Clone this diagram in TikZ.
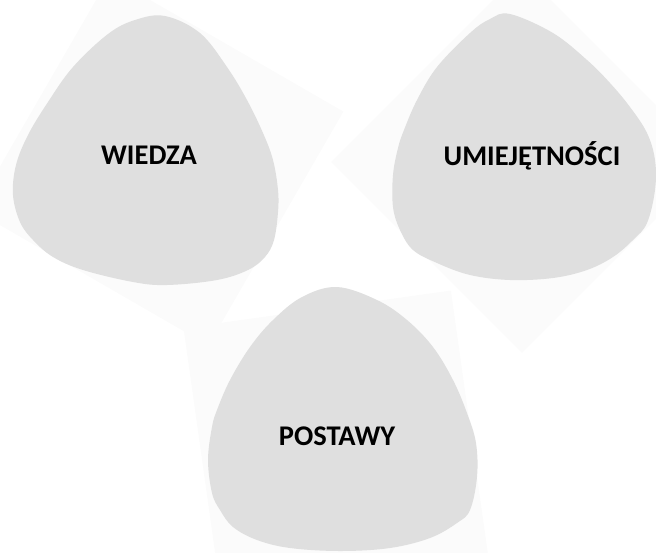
\documentclass[tikz,border=0pt]{standalone}
\usepackage{fontspec}
\setmainfont{Carlito}
\definecolor{blobgray}{HTML}{DFDFDF}
\definecolor{squaregray}{HTML}{FBFBFB}
\begin{document}
\begin{tikzpicture}[x=1pt,y=-1pt,
  blob/.style={fill=blobgray,draw=none},
  backsq/.style={fill=squaregray,draw=none},
  lbl/.style={font=\bfseries\fontsize{28.5}{32}\selectfont,anchor=base,inner sep=0pt,text=black}]
\useasboundingbox (0,0) rectangle (656,552);
\begin{scope}
\clip (0,0) rectangle (656,552);
% faint background squares
\fill[backsq, rotate around={-30:(159,161)}] (24,26) rectangle (294,296);
\fill[backsq, rotate around={45:(522,162)}] (387,27) rectangle (657,297);
\fill[backsq, rotate around={8:(336,443)}] (201,308) rectangle (471,578);
% blobs
\fill[blob] plot[smooth cycle, tension=0.6] coordinates {
  (165,16) (200,33) (227,67) (247,100) (263,133) (273,160) (278,190) (278,212)
  (274,240) (265,257) (248,270) (217,280) (167,285) (133,282) (83,270) (53,257)
  (33,240) (20,222) (13,195) (16,165) (28,135) (48,102) (73,67) (108,34) (135,20)};
\fill[blob] plot[smooth cycle, tension=0.6] coordinates {
  (510,14) (553,33) (587,60) (610,83) (630,107) (647,133) (655,160) (655,190)
  (647,223) (633,240) (613,257) (587,270) (553,278) (510,280) (470,275) (437,263)
  (413,250) (400,230) (393,207) (393,175) (398,148) (404,130) (417,100) (437,67)
  (470,33) (490,19)};
\fill[blob] plot[smooth cycle, tension=0.6] coordinates {
  (337,287) (377,300) (407,320) (433,347) (453,380) (467,413) (476,443) (477,477)
  (470,510) (457,523) (430,538) (390,548) (340,551) (290,548) (257,540) (233,527)
  (220,510) (212,493) (208,460) (212,427) (217,410) (230,380) (250,347) (273,320)
  (302,297)};
\end{scope}
% labels
\node[lbl] (wiedza) at (149,164) {WIEDZA};
\node[lbl] (umiejetnosci) at (532,165) {UMIEJĘTNOŚCI};
\node[lbl] (postawy) at (337,445) {POSTAWY};
\end{tikzpicture}
\end{document}
